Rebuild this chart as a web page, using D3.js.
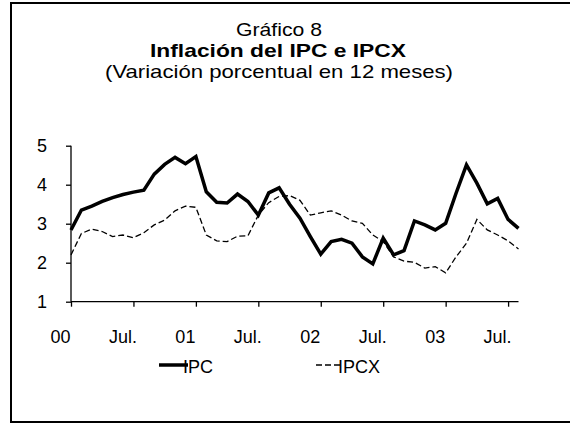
<!DOCTYPE html>
<html>
<head>
<meta charset="utf-8">
<style>
  body { margin: 0; background: #fff; }
  text { font-family: "Liberation Sans", Arial, sans-serif; fill: #000; }
</style>
</head>
<body>
<div id="chart"></div>
<script src="https://cdn.jsdelivr.net/npm/d3@7"></script>
<script>
// monthly, Jan 2000 .. Aug 2003
var ipc  = [2.84,3.35,3.45,3.57,3.67,3.75,3.81,3.86,4.27,4.52,4.70,4.54,4.72,3.82,3.55,3.53,3.76,3.57,3.22,3.79,3.92,3.50,3.14,2.67,2.22,2.54,2.60,2.50,2.15,1.97,2.63,2.20,2.31,3.07,2.97,2.84,3.01,3.78,4.51,4.04,3.51,3.65,3.11,2.88]
var ipcx = [2.20,2.75,2.86,2.80,2.67,2.71,2.64,2.77,2.97,3.09,3.33,3.45,3.42,2.71,2.56,2.54,2.68,2.69,3.22,3.54,3.70,3.72,3.60,3.22,3.28,3.33,3.22,3.07,3.01,2.71,2.54,2.15,2.04,2.01,1.86,1.90,1.74,2.15,2.50,3.11,2.84,2.71,2.56,2.35]
var xTicks  = [0,6,12,18,24,30,36,42]
var xLabels = ["00","Jul.","01","Jul.","02","Jul.","03","Jul."]
var yTicks  = [1,2,3,4,5]
var seriesNames = ["IPC","IPCX"]

var W = 570, H = 424

var svg = d3.select("#chart").append("svg")
  .attr("width", W).attr("height", H)

// frame
svg.append("rect")
  .attr("x", 11).attr("y", 3).attr("width", 580).attr("height", 419)
  .attr("fill", "none").attr("stroke", "#000").attr("stroke-width", 2)

// titles (source text is a bit stretched horizontally)
svg.append("text").attr("x", 279).attr("y", 36).attr("text-anchor", "middle")
  .attr("textLength", 86).attr("lengthAdjust", "spacingAndGlyphs")
  .style("font-size", "19px").text("Gráfico 8")
svg.append("text").attr("x", 278).attr("y", 57).attr("text-anchor", "middle")
  .attr("textLength", 256).attr("lengthAdjust", "spacingAndGlyphs")
  .style("font-size", "19px").style("font-weight", "bold").text("Inflación del IPC e IPCX")
svg.append("text").attr("x", 279).attr("y", 78).attr("text-anchor", "middle")
  .attr("textLength", 348).attr("lengthAdjust", "spacingAndGlyphs")
  .style("font-size", "19px").text("(Variación porcentual en 12 meses)")

var x = d3.scaleLinear().domain([0, 43]).range([71, 518.5])
var y = d3.scaleLinear().domain([1, 5]).range([301.7, 145.7])

// y axis
var yAxis = d3.axisLeft(y).tickValues(yTicks).tickSize(5).tickPadding(19).tickFormat(d3.format("d"))
var gy = svg.append("g").attr("transform", "translate(71,0)").call(yAxis)
gy.select(".domain").attr("d", "M0," + y(1) + "V" + y(5)).attr("stroke-width", 1.3)
gy.selectAll("line").attr("stroke-width", 1.3)
gy.selectAll("text").style("font-size", "18px").attr("font-family", null)

// x axis
var xAxis = d3.axisBottom(x).tickValues(xTicks).tickSize(5).tickPadding(24)
  .tickFormat(function(d, i) { return xLabels[i] })
var gx = svg.append("g").attr("transform", "translate(0," + y(1) + ")").call(xAxis)
gx.select(".domain").attr("d", "M" + x(0) + ",0H" + x(43)).attr("stroke-width", 1.3)
gx.selectAll("line").attr("stroke-width", 1.3)
gx.selectAll("text").style("font-size", "18px").attr("font-family", null).attr("dx", -11)

// lines
var line = d3.line().x(function(d, i) { return x(i) }).y(function(d) { return y(d) })

svg.append("path").datum(ipcx)
  .attr("fill", "none").attr("stroke", "#000").attr("stroke-width", 1.3)
  .attr("stroke-dasharray", "6,3").attr("d", line)

svg.append("path").datum(ipc)
  .attr("fill", "none").attr("stroke", "#000").attr("stroke-width", 3.5)
  .attr("stroke-linejoin", "miter").attr("d", line)

// legend
var leg = svg.append("g")
leg.append("line").attr("x1", 159).attr("x2", 188).attr("y1", 365).attr("y2", 365)
  .attr("stroke", "#000").attr("stroke-width", 3.5)
leg.append("text").attr("x", 183).attr("y", 373).style("font-size", "18px").text(seriesNames[0])
leg.append("line").attr("x1", 316).attr("x2", 343).attr("y1", 365).attr("y2", 365)
  .attr("stroke", "#000").attr("stroke-width", 1.3).attr("stroke-dasharray", "6,3")
leg.append("text").attr("x", 338).attr("y", 373).style("font-size", "18px").text(seriesNames[1])
</script>
</body>
</html>
